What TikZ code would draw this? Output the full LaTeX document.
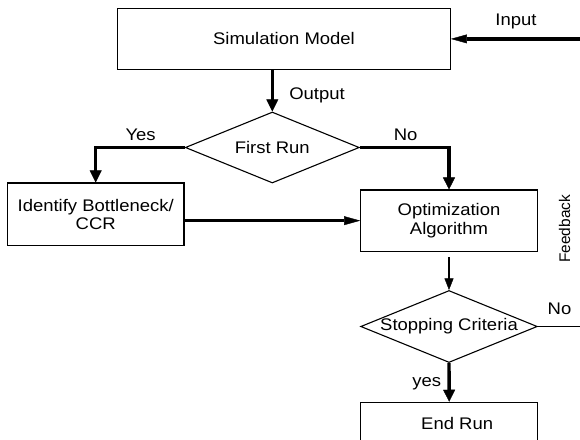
\documentclass[tikz,border=0pt]{standalone}
\usepackage{fontspec}
\setmainfont{Liberation Sans}[FakeStretch=1.1]
\newfontfamily\plainsans{Liberation Sans}
\usetikzlibrary{shapes.geometric,arrows.meta}

\begin{document}
\begin{tikzpicture}[x=1pt,y=1pt,
  every node/.style={font=\fontsize{16.8}{18.3}\selectfont},
  box/.style={draw, line width=1.1pt, inner sep=0pt, align=center},
  decision/.style={draw, diamond, line width=1.1pt, inner sep=0pt, shape aspect=2.45},
  thickline/.style={line width=3.4pt},
  thinline/.style={line width=1.1pt},
  vtip/.style={-{Triangle[length=12pt,width=12pt,line width=0.4pt]}},
  htip/.style={-{Triangle[length=16pt,width=8.8pt,line width=0.4pt]}},
  smalltip/.style={-{Triangle[length=11.5pt,width=9pt,line width=0.4pt]}},
  lbl/.style={anchor=base, inner sep=0pt}]

\useasboundingbox (0,0) rectangle (580,-439);
\clip (0,0) rectangle (580,-439);

% process boxes and decisions
\node[box, minimum width=332.6pt, minimum height=60.3pt] (sim) at (284,-38.9) {Simulation Model};
\node[decision, minimum width=174pt, minimum height=71pt] (first) at (272.3,-147.5) {\makebox[0pt]{First Run}};
\node[box, minimum width=176.6pt, minimum height=62.7pt] (ident) at (95.7,-214.35) {Identify Bottleneck/\\CCR};
\node[box, minimum width=176.5pt, minimum height=61.3pt] (opt) at (449,-220.65) {Optimization\\Algorithm};
\node[decision, minimum width=176.6pt, minimum height=72pt] (stop) at (449,-326.5) {\makebox[0pt]{Stopping Criteria}};
\node[box, minimum width=177pt, minimum height=42.6pt] (endrun) at (449.2,-423.6) {\hspace*{16pt}End Run};

% open ends of the input and feedback lines
\coordinate (inp) at (580,-38.9);
\coordinate (fb) at (580,-326.5);

% connectors
\draw[thickline,htip] (inp) -- (sim.east);
\draw[thickline,vtip] (first.north |- sim.south) -- (first.north);
\draw[thickline,vtip] (first.west) -| (ident.north);
\draw[thickline,vtip] (first.east) -| (opt.north);
\draw[thickline,htip] (ident.east |- opt.west) -- (opt.west);
\draw[thinline,smalltip,shorten <=5.4pt] (opt.south) -- (stop.north);
\draw[thickline,vtip] (stop.south) -- (endrun.north);
\draw[thinline] (stop.east) -- (fb);

% labels
\node[lbl] (linput) at (516,-25.7) {Input};
\node[lbl] (loutput) at (317,-99.3) {Output};
\node[lbl] (lyes) at (140.6,-140) {Yes};
\node[lbl] (lno) at (405.7,-140) {No};
\node[lbl] (lno2) at (559.5,-314.3) {No};
\node[lbl] (lyes2) at (426.7,-386.7) {yes};
\node[inner sep=0pt, rotate=90, font=\plainsans\fontsize{15.4}{18}\selectfont] (lfeed) at (564.5,-228.8) {Feedback};
\end{tikzpicture}
\end{document}
